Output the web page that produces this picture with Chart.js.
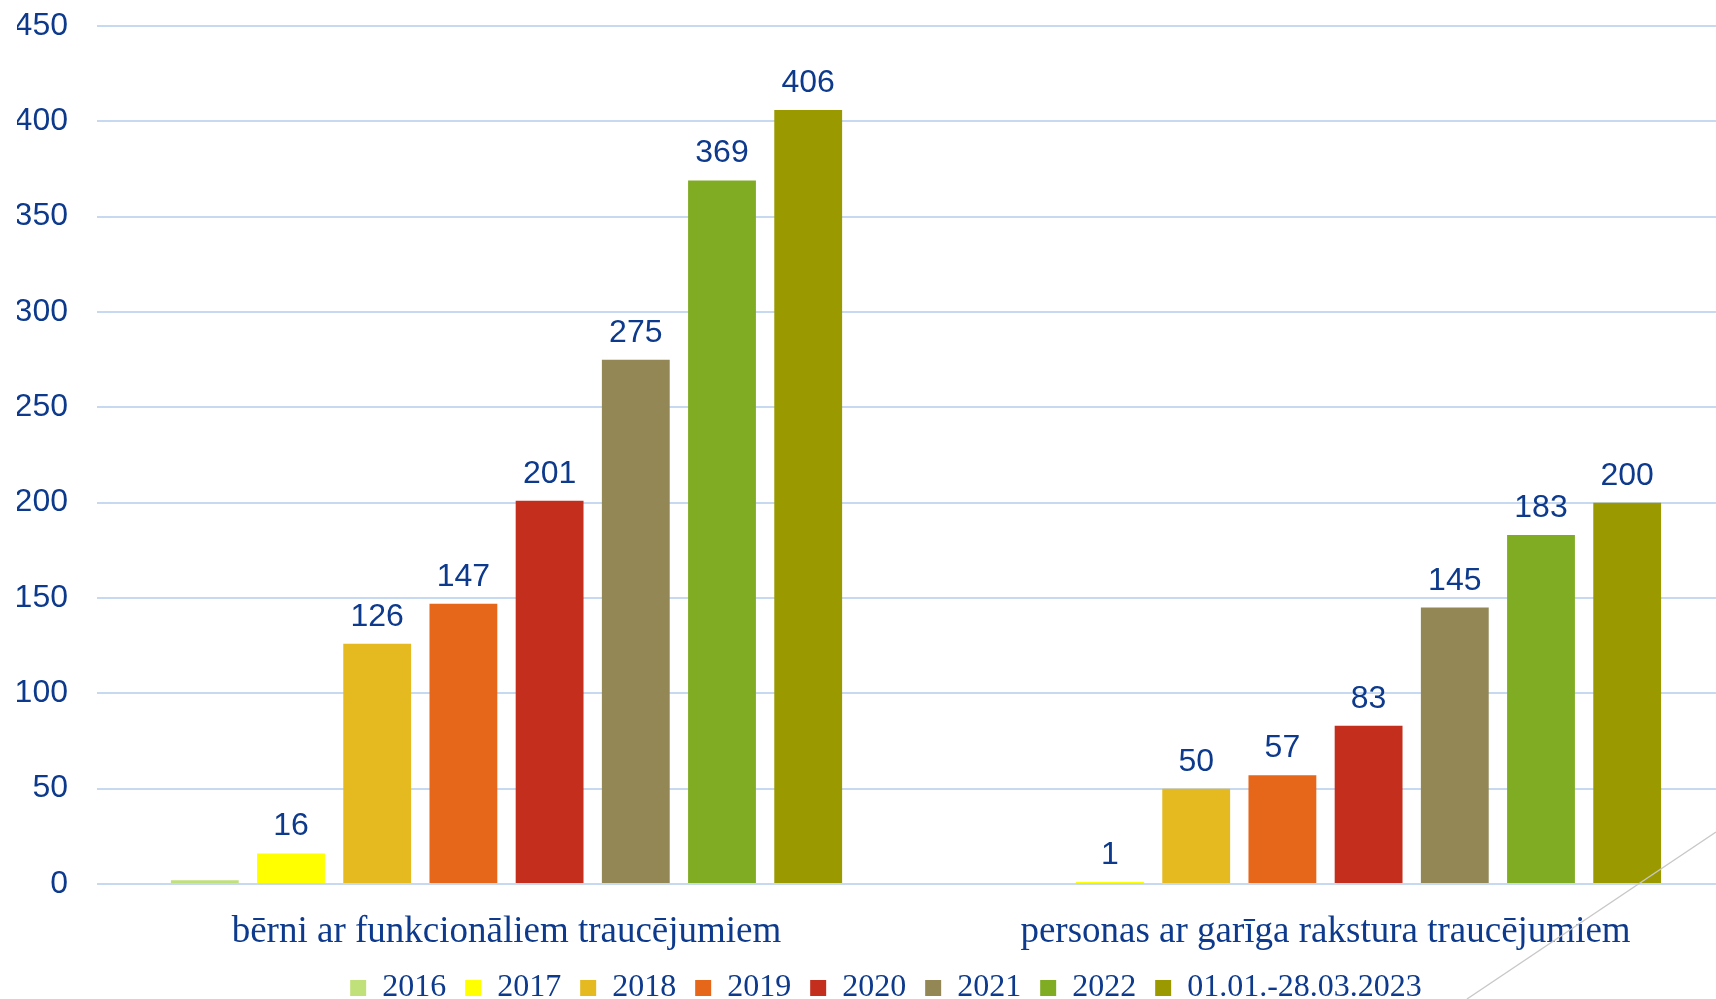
<!DOCTYPE html>
<html>
<head>
<meta charset="utf-8">
<script src="https://cdn.jsdelivr.net/npm/chart.js@4.4.1/dist/chart.umd.min.js"></script>
<style>
  html, body { margin: 0; padding: 0; background: #fff; overflow: hidden; }
  /* the original plot runs a bit past the right and bottom edge of the picture */
  #wrap { width: 1735px; height: 1014px; position: relative; }
</style>
</head>
<body>
<div id="wrap"><canvas id="chart"></canvas></div>
<script>
const categories = ['bērni ar funkcionāliem traucējumiem', 'personas ar garīga rakstura traucējumiem']
const seriesLabels = ['2016', '2017', '2018', '2019', '2020', '2021', '2022', '01.01.-28.03.2023']
const values2016 = [2, null]
const values2017 = [16, 1]
const values2018 = [126, 50]
const values2019 = [147, 57]
const values2020 = [201, 83]
const values2021 = [275, 145]
const values2022 = [369, 183]
const values2023 = [406, 200]
const yTicks = [0, 50, 100, 150, 200, 250, 300, 350, 400, 450]

const SERIES_COLORS = ['#c0e07a', '#ffff00', '#e5b920', '#e6661a', '#c32f1c', '#938755', '#80ac24', '#9a9a00']
const TEXT_BLUE = '#0d3a8c'
const GRID_BLUE = '#c6d9f1'

const allValues = [values2016, values2017, values2018, values2019, values2020, values2021, values2022, values2023]
// 2016 has no value label in the original
const showLabel = [false, true, true, true, true, true, true, true]

const datasets = seriesLabels.map((label, i) => ({
  label: label,
  data: allValues[i],
  backgroundColor: SERIES_COLORS[i],
  borderWidth: 0,
  barPercentage: 0.787,
  categoryPercentage: 0.842,
}))

// value labels above bars
const barLabels = {
  id: 'barLabels',
  afterDatasetsDraw(chart) {
    const ctx = chart.ctx
    ctx.save()
    ctx.font = '32px "Liberation Sans", Arial, sans-serif'
    ctx.fillStyle = TEXT_BLUE
    ctx.textAlign = 'center'
    ctx.textBaseline = 'alphabetic'
    chart.data.datasets.forEach((ds, i) => {
      if (!showLabel[i]) return
      chart.getDatasetMeta(i).data.forEach((bar, j) => {
        const v = ds.data[j]
        if (v === null || v === undefined) return
        ctx.fillText(String(v), bar.x, bar.y - 18)
      })
    })
    ctx.restore()
  },
}

// legend sits a little right of the canvas centre in the original
const legendShift = {
  id: 'legendShift',
  afterLayout(chart) {
    chart.legend.left += 10
    chart.legend.right += 10
  },
}

// thin grey decoration line at bottom right corner
const cornerLine = {
  id: 'cornerLine',
  afterDraw(chart) {
    const ctx = chart.ctx
    ctx.save()
    ctx.strokeStyle = '#c8c8c8'
    ctx.lineWidth = 1.5
    ctx.beginPath()
    ctx.moveTo(1716, 832)
    ctx.lineTo(1467, 999)
    ctx.stroke()
    ctx.restore()
  },
}

Chart.defaults.color = TEXT_BLUE

new Chart(document.getElementById('chart').getContext('2d'), {
  type: 'bar',
  data: { labels: categories, datasets: datasets },
  plugins: [barLabels, legendShift, cornerLine],
  options: {
    responsive: true,
    maintainAspectRatio: false,
    animation: false,
    layout: { padding: { left: 17, right: 0, top: 0, bottom: 0 } },
    plugins: {
      title: { display: false },
      tooltip: { enabled: false },
      legend: {
        position: 'bottom',
        labels: {
          color: TEXT_BLUE,
          font: { family: '"Liberation Serif", "Times New Roman", serif', size: 32 },
          boxWidth: 16,
          boxHeight: 16,
          padding: 19,
        },
      },
    },
    scales: {
      x: {
        grid: { display: false, drawTicks: false },
        border: { display: false },
        ticks: {
          color: TEXT_BLUE,
          padding: 26,
          font: { family: '"Liberation Serif", "Times New Roman", serif', size: 37 },
        },
        afterFit: (axis) => { axis.height = 69 },
      },
      y: {
        min: 0,
        max: 450,
        afterBuildTicks: (axis) => { axis.ticks = yTicks.map((v) => ({ value: v })) },
        grid: { color: GRID_BLUE, lineWidth: 2, drawTicks: false },
        border: { display: false },
        ticks: {
          color: TEXT_BLUE,
          padding: 29,
          font: { family: '"Liberation Sans", Arial, sans-serif', size: 32 },
        },
        afterFit: (axis) => {
          axis.width = 80
          axis.paddingTop = 26
          axis.paddingBottom = 19
        },
      },
    },
  },
})
</script>
</body>
</html>
